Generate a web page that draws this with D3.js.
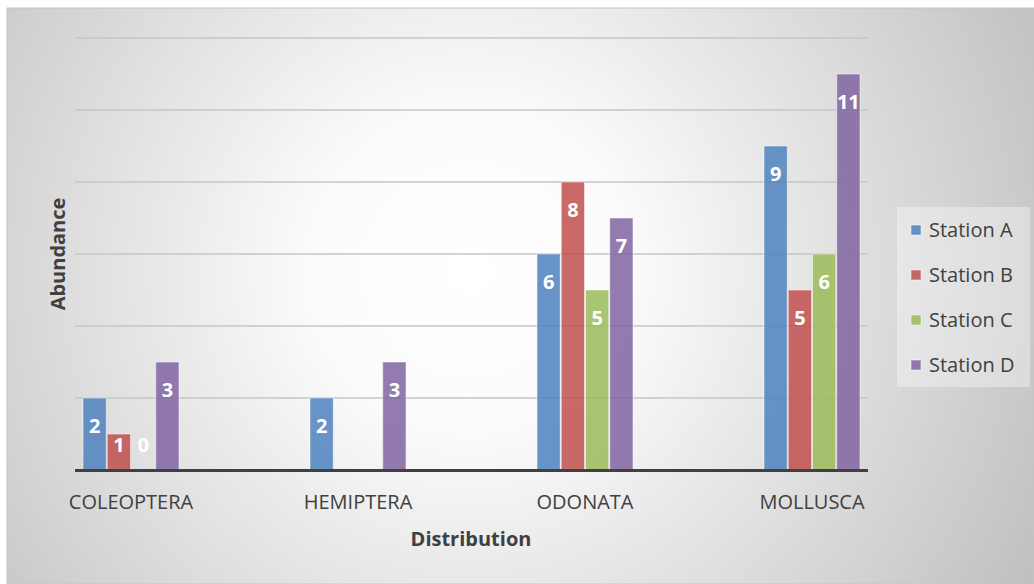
<!DOCTYPE html>
<html><head><meta charset="utf-8">
<script src="https://cdn.jsdelivr.net/npm/d3@7"></script>
<style>html,body{margin:0;padding:0;background:#fff;}svg{display:block;}</style>
</head><body>
<svg id="chart" width="1034" height="584"></svg>
<script>
const categories = ["COLEOPTERA", "HEMIPTERA", "ODONATA", "MOLLUSCA"];
const seriesNames = ["Station A", "Station B", "Station C", "Station D"];
const stationA = [2, 2, 6, 9];
const stationB = [1, null, 8, 5];
const stationC = [0, null, 5, 6];
const stationD = [3, 3, 7, 11];
const yTicks = [0, 2, 4, 6, 8, 10, 12];
const colors = ["#4F81BD", "#C0504D", "#9BBB59", "#8064A2"];
const xTitle = "Distribution";
const yTitle = "Abundance";

const series = [stationA, stationB, stationC, stationD];
const font = "'Open Sans', 'Noto Sans', sans-serif";
const svg = d3.select("#chart");
const defs = svg.append("defs");
const grad = defs.append("radialGradient").attr("id", "bg")
  .attr("gradientUnits", "userSpaceOnUse")
  .attr("cx", 470).attr("cy", 270).attr("r", 640);
grad.append("stop").attr("offset", "0%").attr("stop-color", "#ffffff");
grad.append("stop").attr("offset", "25%").attr("stop-color", "#fbfbfb");
grad.append("stop").attr("offset", "100%").attr("stop-color", "#c0c0c0");

svg.append("rect").attr("x", 7).attr("y", 8).attr("width", 1034 - 7).attr("height", 584 - 8)
  .attr("fill", "url(#bg)").attr("stroke", "#c4c4c4").attr("stroke-width", 1);

const plot = {left: 75, right: 868, top: 38, bottom: 470};
const y = d3.scaleLinear().domain([0, 12]).range([plot.bottom, plot.top]);
const x = d3.scalePoint().domain(categories).range([131, 812]);
const inner = d3.scaleBand().domain(seriesNames).range([-48.5, 48.5]).padding(0);

// gridlines
svg.append("g").selectAll("line").data(yTicks.filter(t => t > 0)).join("line")
  .attr("x1", plot.left).attr("x2", plot.right)
  .attr("y1", d => y(d)).attr("y2", d => y(d))
  .attr("stroke", "#c6c6c6").attr("stroke-width", 1.5);

// bars
const groups = svg.append("g").selectAll("g").data(series).join("g");
groups.each(function(vals, si) {
  const g = d3.select(this);
  const data = vals.map((v, ci) => ({v, c: categories[ci]})).filter(d => d.v !== null);
  g.selectAll("rect").data(data).join("rect")
    .attr("x", d => x(d.c) + inner(seriesNames[si]) + 0.5)
    .attr("width", inner.bandwidth() - 1)
    .attr("y", d => y(d.v))
    .attr("height", d => y(0) - y(d.v))
    .attr("fill", colors[si]).attr("fill-opacity", 0.85)
    .attr("stroke", "#ffffff").attr("stroke-opacity", 0.5).attr("stroke-width", 1);
  g.selectAll("text").data(data).join("text")
    .attr("x", d => x(d.c) + inner(seriesNames[si]) + inner.bandwidth() / 2)
    .attr("y", d => Math.min(y(d.v) + 35, y(0) - 18))
    .attr("text-anchor", "middle")
    .attr("font-family", font).attr("font-weight", "bold").attr("font-size", 20)
    .attr("fill", "#ffffff")
    .text(d => d.v);
});

// axis baseline
svg.append("line").attr("x1", plot.left).attr("x2", plot.right)
  .attr("y1", y(0) + 0.5).attr("y2", y(0) + 0.5)
  .attr("stroke", "#404040").attr("stroke-width", 3);

// category labels
svg.append("g").selectAll("text").data(categories).join("text")
  .attr("x", d => x(d)).attr("y", 509)
  .attr("text-anchor", "middle").attr("font-family", font).attr("font-size", 20)
  .attr("fill", "#404040").text(d => d);

// axis titles
svg.append("text").attr("x", 471).attr("y", 546).attr("text-anchor", "middle")
  .attr("font-family", font).attr("font-weight", "bold").attr("font-size", 20)
  .attr("fill", "#404040").text(xTitle);
svg.append("text").attr("transform", "translate(65,254) rotate(-90)").attr("text-anchor", "middle")
  .attr("font-family", font).attr("font-weight", "bold").attr("font-size", 20)
  .attr("fill", "#404040").text(yTitle);

// legend
svg.append("rect").attr("x", 897).attr("y", 207).attr("width", 133).attr("height", 180)
  .attr("fill", "#ffffff").attr("fill-opacity", 0.35);
const leg = svg.append("g").selectAll("g").data(seriesNames).join("g")
  .attr("transform", (d, i) => `translate(911,${230 + i * 45})`);
leg.append("rect").attr("x", 0).attr("y", -5).attr("width", 10).attr("height", 10)
  .attr("fill", (d, i) => colors[i]).attr("fill-opacity", 0.85)
  .attr("stroke", "#fff").attr("stroke-opacity", 0.5);
leg.append("text").attr("x", 18).attr("y", 7)
  .attr("font-family", font).attr("font-size", 20).attr("fill", "#404040").text(d => d);
</script>
</body></html>
